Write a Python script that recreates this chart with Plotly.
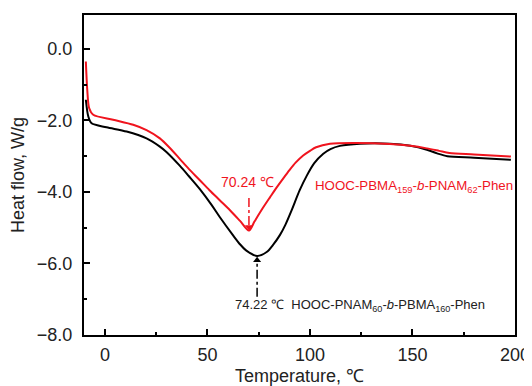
import plotly.graph_objects as go

# Sample 1: HOOC-PBMA159-b-PNAM62-Phen (red)
red_temp = [-9.3, -8.6, -7.7, -5.7, 4, 13.8, 20.3, 26.8, 31.7, 36.6, 41, 46.3, 51, 56, 61, 65.9, 70.24,
            73, 77, 80.5, 83.7, 87, 90, 93, 96.7, 100, 103, 109.8, 122.8, 139, 149, 157, 163, 168, 180, 198]
red_flow = [-0.35, -1.15, -1.65, -1.84, -1.98, -2.12, -2.27, -2.5, -2.77, -3.08, -3.36, -3.67, -3.95, -4.23, -4.51, -4.81, -5.08,
            -4.82, -4.45, -4.15, -3.88, -3.62, -3.39, -3.18, -2.98, -2.85, -2.75, -2.65, -2.63, -2.66, -2.71, -2.78, -2.85, -2.91, -2.95, -3.01]

# Sample 2: HOOC-PNAM60-b-PBMA160-Phen (black)
black_temp = [-9.3, -8.1, -6.5, 0.8, 10.6, 20.3, 26.8, 30, 36.6, 41, 46.3, 52, 56, 62.6, 66, 69, 74.22, 78.9,
              82, 85.4, 88, 91, 95, 98.4, 102, 106.5, 110, 114.6, 124.4, 139, 149, 157, 162, 167, 180, 198]
black_flow = [-1.42, -1.89, -2.08, -2.19, -2.31, -2.5, -2.73, -2.88, -3.27, -3.56, -3.92, -4.36, -4.7, -5.22, -5.47, -5.64, -5.79, -5.68,
              -5.48, -5.2, -4.92, -4.52, -3.95, -3.55, -3.2, -2.93, -2.8, -2.71, -2.65, -2.65, -2.71, -2.82, -2.92, -3.0, -3.04, -3.1]

red_peak = (70.24, -5.08)
black_peak = (74.22, -5.79)

RED = "#f0141e"
FONT = "Liberation Sans, Arial, sans-serif"

fig = go.Figure()
fig.add_trace(go.Scatter(x=black_temp, y=black_flow, mode="lines", line=dict(color="black", width=2, shape="spline", smoothing=0.8), showlegend=False))
fig.add_trace(go.Scatter(x=red_temp, y=red_flow, mode="lines", line=dict(color=RED, width=2, shape="spline", smoothing=0.8), showlegend=False))

# peak arrows (dash-dot shafts with arrowheads)
fig.add_trace(go.Scatter(x=[red_peak[0], red_peak[0]], y=[-4.17, red_peak[1] + 0.12], mode="lines",
                         line=dict(color=RED, width=1.5, dash="dashdot"), showlegend=False))
fig.add_trace(go.Scatter(x=[red_peak[0]], y=[red_peak[1] + 0.1], mode="markers",
                         marker=dict(symbol="triangle-down", size=7, color=RED), showlegend=False))
fig.add_trace(go.Scatter(x=[black_peak[0], black_peak[0]], y=[-6.93, black_peak[1] - 0.15], mode="lines",
                         line=dict(color="black", width=1.5, dash="dashdot"), showlegend=False))
fig.add_trace(go.Scatter(x=[black_peak[0]], y=[black_peak[1] - 0.12], mode="markers",
                         marker=dict(symbol="triangle-up", size=7, color="black"), showlegend=False))

fig.add_annotation(x=69.5, y=-3.72, text="70.24 ℃", showarrow=False, xanchor="center", yanchor="middle",
                   font=dict(family=FONT, size=14, color=RED))
fig.add_annotation(x=101.5, y=-3.85, text="HOOC-PBMA<sub>159</sub>-<i>b</i>-PNAM<sub>62</sub>-Phen", showarrow=False,
                   xanchor="left", yanchor="middle", font=dict(family=FONT, size=13.3, color=RED))
fig.add_annotation(x=62.4, y=-7.18, text="74.22 ℃  HOOC-PNAM<sub>60</sub>-<i>b</i>-PBMA<sub>160</sub>-Phen", showarrow=False,
                   xanchor="left", yanchor="middle", font=dict(family=FONT, size=13, color="#222"))

# page body has an 8px margin, so the figure is 8px smaller and margins shifted accordingly
fig.update_layout(
    width=524, height=378,
    margin=dict(l=76, r=17, t=7, b=51),
    plot_bgcolor="white", paper_bgcolor="white",
    font=dict(family=FONT, size=18, color="#222"),
)
fig.update_xaxes(range=[-10.2, 200], tickmode="linear", tick0=0, dtick=50, ticks="inside", ticklen=6, tickwidth=1.5,
                 tickcolor="black", showline=True, linecolor="black", linewidth=2, mirror=True, showgrid=False,
                 zeroline=False, automargin=False, ticklabelstandoff=2,
                 minor=dict(ticks="inside", dtick=25, ticklen=3, tickwidth=1.5, tickcolor="black"),
                 title=dict(text="Temperature, ℃", font=dict(size=18), standoff=8), tickfont=dict(size=18))
fig.update_yaxes(range=[-8, 0.95], tickmode="linear", tick0=0, dtick=2, tickformat=".1f", ticks="inside", ticklen=6,
                 tickwidth=1.5, tickcolor="black", showline=True, linecolor="black", linewidth=2, mirror=True,
                 showgrid=False, zeroline=False, automargin=False, ticklabelstandoff=6,
                 minor=dict(ticks="inside", dtick=1, ticklen=3, tickwidth=1.5, tickcolor="black"),
                 title=dict(text="Heat flow, W/g", font=dict(size=18), standoff=9), tickfont=dict(size=18))

fig.write_html("out.html")
